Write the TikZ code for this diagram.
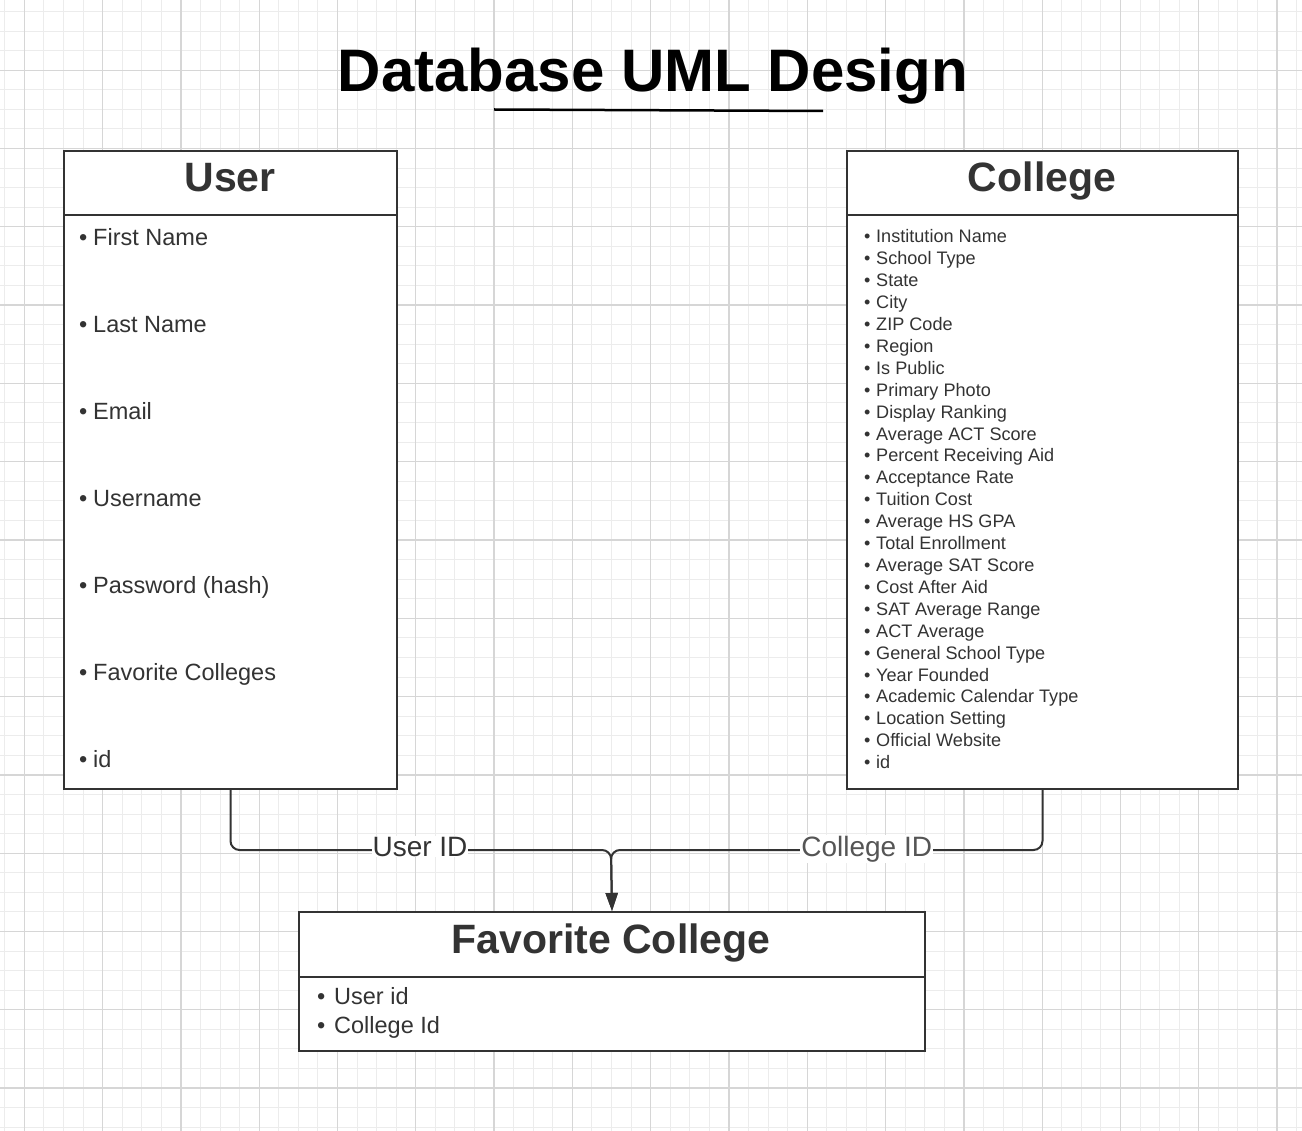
\documentclass[tikz,border=0pt]{standalone}
\usepackage{fontspec}
\setmainfont{Liberation Sans}
\usetikzlibrary{arrows.meta}
\definecolor{gminor}{HTML}{ECECEC}
\definecolor{gmajor}{HTML}{D6D6D6}
\definecolor{ink}{HTML}{333333}
\definecolor{inkl}{HTML}{555555}
\newcommand{\fsz}[1]{\fontsize{#1}{#1}\selectfont}
\tikzset{
  box/.style={draw=ink, line width=2pt, fill=white, inner sep=0pt, anchor=north west},
  divider/.style={draw=ink, line width=2pt},
  boxtitle/.style={text=ink, font=\fsz{41}\bfseries, inner sep=0pt, anchor=base},
  bigitem/.style={text=ink, font=\fsz{23.5}, inner sep=0pt, anchor=base west},
  smallitem/.style={text=ink, font=\fsz{18.1}, inner sep=0pt, anchor=base west},
  conn/.style={draw=ink, line width=2pt, rounded corners=9pt, -{Triangle[length=18pt,width=12pt]}},
  lbl/.style={fill=white, font=\fsz{28}, inner xsep=1pt, inner ysep=1pt, anchor=base},
}
\begin{document}
\begin{tikzpicture}[x=1pt,y=-1pt]
\useasboundingbox (0,0) rectangle (1302,1131);
\fill[white] (0,0) rectangle (1302,1131);
% grid
\foreach \k in {0,...,66} {\draw[gminor, line width=1pt] ({4.7+19.575*\k},0) -- ({4.7+19.575*\k},1131);}
\foreach \k in {0,...,57} {\draw[gminor, line width=1pt] (0,{11.5+19.575*\k}) -- (1302,{11.5+19.575*\k});}
\foreach \k in {0,...,16} {\draw[gmajor, line width=1.3pt] ({24.3+78.3*\k},0) -- ({24.3+78.3*\k},1131);}
\foreach \k in {0,...,13} {\draw[gmajor, line width=1.3pt] (0,{70.2+78.3*\k}) -- (1302,{70.2+78.3*\k});}

% title
\node[font=\fsz{60}\bfseries, text=black, inner sep=0pt, anchor=base] (title) at (653,92) {Database UML Design};
\coordinate (ulA) at (494,109.5);
\coordinate (ulB) at (823,111);
\draw[black, line width=2.5pt] (ulA) -- (ulB);

% User box
\node[box, minimum width=333pt, minimum height=638pt] (user) at (63,150) {};
\draw[divider] ([yshift=-65pt]user.north west) -- ([yshift=-65pt]user.north east);
\node[boxtitle] (userT) at (230,192) {User};
\foreach \t [count=\i from 0] in {First Name,Last Name,Email,Username,Password (hash),Favorite Colleges,id} {
  \node[bigitem] (ub\i) at (78.9,{246+86.9*\i}) {•};
  \node[bigitem] (ui\i) at (93,{246+86.9*\i}) {\t};
}

% College box
\node[box, minimum width=391pt, minimum height=638pt] (college) at (846,150) {};
\draw[divider] ([yshift=-65pt]college.north west) -- ([yshift=-65pt]college.north east);
\node[boxtitle] (collegeT) at (1042,192) {College};
\foreach \t [count=\i from 0] in {Institution Name,School Type,State,City,ZIP Code,Region,Is Public,Primary Photo,Display Ranking,Average ACT Score,Percent Receiving Aid,Acceptance Rate,Tuition Cost,Average HS GPA,Total Enrollment,Average SAT Score,Cost After Aid,SAT Average Range,ACT Average,General School Type,Year Founded,Academic Calendar Type,Location Setting,Official Website,id} {
  \node[smallitem] (cb\i) at (863.8,{243+21.9*\i}) {•};
  \node[smallitem] (ci\i) at (876,{243+21.9*\i}) {\t};
}

% Favorite College box
\node[box, minimum width=626pt, minimum height=139pt] (fav) at (298,911) {};
\draw[divider] ([yshift=-66pt]fav.north west) -- ([yshift=-66pt]fav.north east);
\node[boxtitle] (favT) at (611,953) {Favorite College};
\node[bigitem] (fb0) at (317,1004) {•};
\node[bigitem] (fi0) at (334,1004) {User id};
\node[bigitem] (fb1) at (317,1033) {•};
\node[bigitem] (fi1) at (334,1033) {College Id};

% connectors
\coordinate (j) at (611,850);
\draw[conn] (user.south) |- (j) -- (fav.north);
\draw[conn] (college.south) |- (j) -- (fav.north);
\node[lbl, text=ink] (uid) at (420,856) {User ID};
\node[lbl, text=inkl] (cid) at (866.7,856) {College ID};
\end{tikzpicture}
\end{document}
